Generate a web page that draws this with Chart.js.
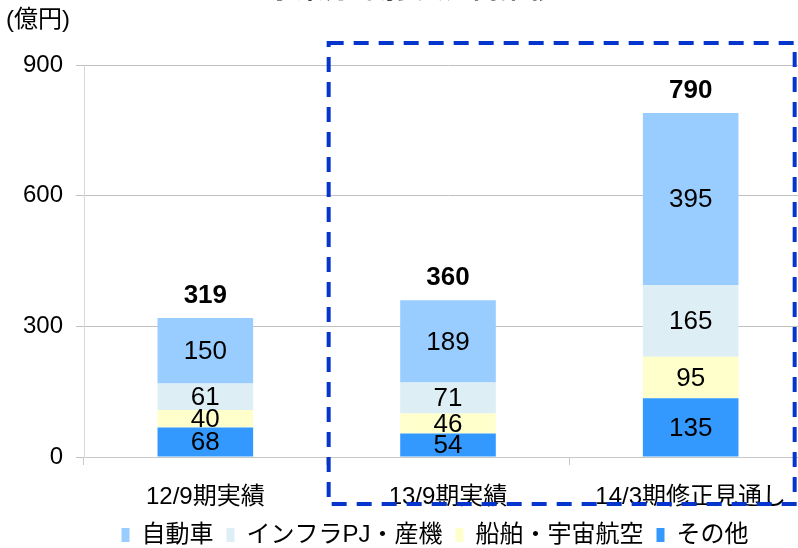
<!DOCTYPE html>
<html>
<head>
<meta charset="utf-8">
<script src="https://cdn.jsdelivr.net/npm/chart.js@4.4.1/dist/chart.umd.min.js"></script>
<style>
  html, body { margin: 0; padding: 0; background: #fff; overflow: hidden; }
  #wrap { position: relative; width: 798px; height: 548px; overflow: hidden; }
  #box { position: absolute; left: 0; top: -30px; width: 812px; height: 587px; }
</style>
</head>
<body>
<div id="wrap"><div id="box"><canvas id="chart"></canvas></div></div>
<script>
const categories = ['12/9期実績', '13/9期実績', '14/3期修正見通し'];
const seriesNames = ['自動車', 'インフラPJ・産機', '船舶・宇宙航空', 'その他'];
const autoValues = [150, 189, 395];
const infraValues = [61, 71, 165];
const marineValues = [40, 46, 95];
const otherValues = [68, 54, 135];
const totals = [319, 360, 790];
const yTicks = [0, 300, 600, 900];

const FONT = "'Liberation Sans', 'Noto Sans CJK JP', sans-serif";

// move the legend a bit to the right, like the original
const legendShift = {
  id: 'legendShift',
  afterLayout(chart) {
    chart.legend.left += 27;
    chart.legend.right += 27;
  }
};

// labels inside segments, totals on top, unit, title and the dashed frame
const overlay = {
  id: 'overlay',
  afterDatasetsDraw(chart) {
    const ctx = chart.ctx;
    const x = chart.scales.x;
    const y = chart.scales.y;
    ctx.save();
    ctx.fillStyle = '#000';
    ctx.textAlign = 'center';
    ctx.textBaseline = 'middle';
    ctx.font = '26px ' + FONT;
    chart.data.datasets.forEach((ds, i) => {
      const meta = chart.getDatasetMeta(i);
      meta.data.forEach((bar, j) => {
        ctx.fillText(ds.data[j], bar.x, (bar.y + bar.base) / 2 + 1);
      });
    });
    ctx.font = 'bold 26px ' + FONT;
    totals.forEach((t, j) => {
      ctx.fillText(t, x.getPixelForValue(j), y.getPixelForValue(t) - 22);
    });

    // unit
    ctx.textAlign = 'left';
    ctx.font = '24px ' + FONT;
    ctx.fillText('(億円)', 6, 50);
    // title (cut off by the frame)
    ctx.textAlign = 'center';
    ctx.font = 'bold 28px ' + FONT;
    ctx.fillText('事業分野別 受注高推移', 412, 20);

    // dashed frame around the latest periods
    const left = (x.getPixelForValue(0) + x.getPixelForValue(1)) / 2 + 2;
    const right = x.getPixelForValue(2) + 104;
    const top = chart.chartArea.top - 22;
    const bottom = chart.chartArea.bottom + 47;
    ctx.strokeStyle = '#0535cc';
    ctx.lineWidth = 4;
    ctx.setLineDash([15, 10]);
    ctx.strokeRect(left, top, right - left, bottom - top);
    ctx.restore();
  }
};

const ctx = document.getElementById('chart').getContext('2d');
new Chart(ctx, {
  type: 'bar',
  data: {
    labels: categories,
    datasets: [
      { label: seriesNames[3], data: otherValues, backgroundColor: '#3399ff' },
      { label: seriesNames[2], data: marineValues, backgroundColor: '#ffffcc' },
      { label: seriesNames[1], data: infraValues, backgroundColor: '#ddeef5' },
      { label: seriesNames[0], data: autoValues, backgroundColor: '#99ccff' }
    ]
  },
  options: {
    responsive: true,
    maintainAspectRatio: false,
    animation: false,
    layout: { padding: { left: 4, top: 95, right: 0, bottom: 0 } },
    datasets: {
      bar: { categoryPercentage: 1, barPercentage: 0.394, borderWidth: 0 }
    },
    scales: {
      x: {
        stacked: true,
        afterFit: (s) => { s.height = 53; },
        grid: { drawOnChartArea: false, tickLength: 8, color: '#c8c8c8' },
        border: { color: '#c8c8c8' },
        ticks: { color: '#000', font: { family: FONT, size: 24 }, padding: 18 }
      },
      y: {
        stacked: true,
        min: yTicks[0],
        max: yTicks[yTicks.length - 1],
        afterFit: (s) => { s.width = 80; },
        grid: { color: '#c0c0c0', tickLength: 8 },
        border: { color: '#d8d8d8' },
        ticks: {
          stepSize: yTicks[1] - yTicks[0],
          color: '#000',
          font: { family: FONT, size: 24 },
          padding: 13
        }
      }
    },
    plugins: {
      legend: {
        position: 'bottom',
        reverse: true,
        labels: {
          boxWidth: 8,
          boxHeight: 14,
          padding: 13,
          color: '#000',
          font: { family: FONT, size: 24 }
        }
      },
      tooltip: { enabled: false }
    }
  },
  plugins: [legendShift, overlay]
});
</script>
</body>
</html>
